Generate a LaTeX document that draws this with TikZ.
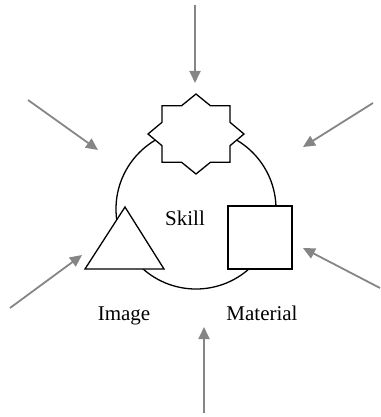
\documentclass[tikz,border=0pt]{standalone}
\usepackage{fontspec}
\setmainfont{Liberation Serif}
\usetikzlibrary{arrows.meta}
\begin{document}
\begin{tikzpicture}[x=1pt,y=-1pt,
  outline/.style={draw=black,line width=1.3pt,fill=white,line join=miter},
  force/.style={draw=black!48,line width=1.8pt,-{Triangle[length=12pt,width=11pt]}},
  lbl/.style={inner sep=0pt,anchor=base,font=\fontsize{21}{25}\selectfont}]
\useasboundingbox (0,0) rectangle (380,417);
% the ring joining the three elements
\draw[line width=1.3pt] (196,209) circle[radius=80];
% eight-pointed star at the top
\draw[outline] (196,94) -- (210.4,105.7) -- (230,105.7) -- (230,122.3) -- (244,134)
  -- (230,145.7) -- (230,162.3) -- (210.4,162.3) -- (196,174) -- (181.6,162.3)
  -- (162,162.3) -- (162,145.7) -- (148,134) -- (162,122.3) -- (162,105.7)
  -- (181.6,105.7) -- cycle;
% triangle and square
\draw[outline] (85,269) -- (164,269) -- (125,207) -- cycle;
\draw[outline] (228,206) rectangle (292,269);
% labels
\node[lbl] (skill) at (185,225) {Skill};
\node[lbl] (image) at (124,320) {Image};
\node[lbl] (material) at (262,320) {Material};
% incoming arrows
\coordinate (t0) at (195,5);   \coordinate (t1) at (195,83);
\coordinate (ul0) at (28,100); \coordinate (ul1) at (98,150);
\coordinate (ur0) at (373,103);\coordinate (ur1) at (303,147);
\coordinate (ll0) at (10,308); \coordinate (ll1) at (82,255);
\coordinate (lr0) at (380,288);\coordinate (lr1) at (303,248);
\coordinate (b0) at (204,413); \coordinate (b1) at (204,327);
\draw[force] (t0) -- (t1);
\draw[force] (ul0) -- (ul1);
\draw[force] (ur0) -- (ur1);
\draw[force] (ll0) -- (ll1);
\draw[force] (lr0) -- (lr1);
\draw[force] (b0) -- (b1);
\end{tikzpicture}
\end{document}
